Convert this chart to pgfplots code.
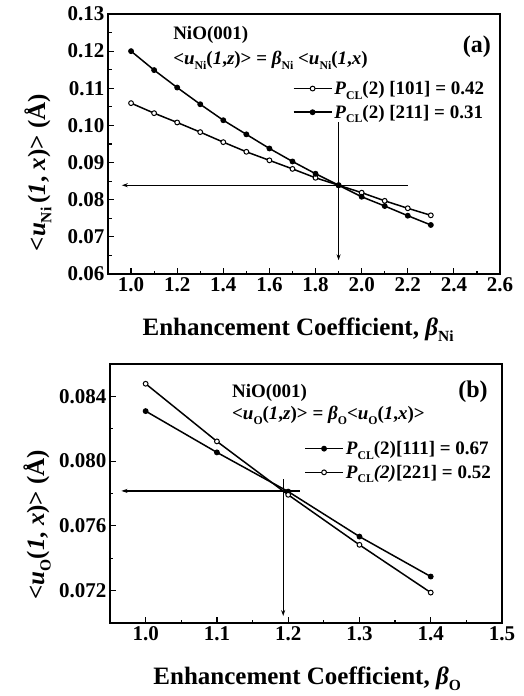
\documentclass[border=0pt]{standalone}
\usepackage{fontspec}
\setmainfont{Liberation Serif}
\usepackage{graphicx}
\usepackage{pgfplots}
\pgfplotsset{compat=1.18}
\usetikzlibrary{arrows.meta}

\newcommand{\sub}[1]{\raisebox{-0.55ex}{\scalebox{0.62}{#1}}}

\pgfplotsset{
  nioax/.style={
    scale only axis, width=392pt,
    axis line style={line width=2pt},
    tick style={line width=1.2pt, black},
    major tick length=6pt, minor tick length=3.5pt,
    tick align=inside, xtick pos=bottom, ytick pos=left,
    tick label style={font=\fontsize{21}{24}\selectfont\bfseries},
    label style={font=\fontsize{25}{28}\selectfont\bfseries},
    scaled ticks=false,
    /pgf/number format/assume math mode=true,
    xticklabel style={/pgf/number format/.cd, fixed, fixed zerofill, precision=1},
    minor x tick num=1, minor y tick num=1,
    every axis plot/.append style={line width=1.5pt, black, mark size=2.4pt},
    legend style={draw=none, fill=none, inner sep=0pt, row sep=5pt,
      font=\fontsize{19}{22}\selectfont\bfseries},
    legend cell align=left,
    legend image code/.code={\draw[mark repeat=2, mark phase=2, #1]
      plot coordinates {(0pt,0pt) (19pt,0pt) (38pt,0pt)};},
    clip=false,
  },
  openm/.style={mark=*, mark options={fill=white, line width=1pt}},
  fillm/.style={mark=*, mark options={fill=black, line width=1pt}},
  guide/.style={line width=1.2pt, black, -{Stealth[length=6pt, width=4pt]}},
}

\begin{document}
\begin{tikzpicture}
\useasboundingbox (0pt,0pt) rectangle (524pt,-696pt);

% ---- panel (a) ----
\begin{axis}[nioax, height=260pt,
  at={(108pt,-274pt)}, anchor=south west,
  xmin=0.9, xmax=2.6, ymin=0.06, ymax=0.13,
  xtick={1.0,1.2,...,2.6}, ytick={0.06,0.07,...,0.13},
  yticklabel style={/pgf/number format/.cd, fixed, fixed zerofill, precision=2},
  xlabel={Enhancement Coefficient, \textit{β}\sub{Ni}},
  ylabel={<\textit{u}\sub{Ni}\,(\textit{1}, \textit{x})> (Å)},
  xlabel style={at={(axis description cs:0.485,-0.215)}, anchor=center},
  ylabel style={at={(axis description cs:-0.179,0.39)}, anchor=center, rotate=0},
  legend style={at={(0.965,0.75)}, anchor=north east},
]
\addplot[openm] coordinates {
  (1.0,0.1060)(1.1,0.1033)(1.2,0.1008)(1.3,0.0982)(1.4,0.0955)(1.5,0.0929)
  (1.6,0.0906)(1.7,0.0883)(1.8,0.0859)(1.9,0.0839)(2.0,0.0819)(2.1,0.0797)
  (2.2,0.0777)(2.3,0.0758)
};
\addlegendentry{\textit{P}\sub{CL}(2) [101] = 0.42}
\addplot[fillm] coordinates {
  (1.0,0.1200)(1.1,0.1149)(1.2,0.1102)(1.3,0.1057)(1.4,0.1014)(1.5,0.0976)
  (1.6,0.0938)(1.7,0.0903)(1.8,0.0870)(1.9,0.0839)(2.0,0.0808)(2.1,0.0783)
  (2.2,0.0757)(2.3,0.0732)
};
\addlegendentry{\textit{P}\sub{CL}(2) [211] = 0.31}
\addplot[guide, forget plot] coordinates {(2.2,0.0839)(0.96,0.0839)};
\addplot[guide, forget plot] coordinates {(1.9,0.1008)(1.9,0.0637)};
\node[anchor=west, inner sep=0pt, font=\fontsize{19}{22}\selectfont\bfseries]
  at (rel axis cs:0.166,0.919) {NiO(001)};
\node[anchor=west, inner sep=0pt, font=\fontsize{19}{22}\selectfont\bfseries]
  at (rel axis cs:0.166,0.823)
  {<\textit{u}\sub{Ni}(\textit{1},\textit{z})> = \textit{β}\sub{Ni} <\textit{u}\sub{Ni}(\textit{1},\textit{x})};
\node[inner sep=0pt, font=\fontsize{24}{27}\selectfont\bfseries]
  at (rel axis cs:0.941,0.873) {(a)};
\end{axis}

% ---- panel (b) ----
\begin{axis}[nioax, height=259pt,
  at={(110pt,-623pt)}, anchor=south west,
  xmin=0.95, xmax=1.5, ymin=0.070, ymax=0.086,
  xtick={1.0,1.1,...,1.5}, ytick={0.072,0.076,0.080,0.084},
  yticklabel style={/pgf/number format/.cd, fixed, fixed zerofill, precision=3},
  xlabel={Enhancement Coefficient, \textit{β}\sub{O}},
  ylabel={<\textit{u}\sub{O}(\textit{1}, \textit{x})> (Å)},
  xlabel style={at={(axis description cs:0.503,-0.215)}, anchor=center},
  ylabel style={at={(axis description cs:-0.186,0.38)}, anchor=center, rotate=0},
  legend style={at={(0.977,0.71)}, anchor=north east},
]
\addplot[fillm] coordinates {
  (1.0,0.08309)(1.1,0.08054)(1.2,0.07812)(1.3,0.07534)(1.4,0.07287)
};
\addlegendentry{\textit{P}\sub{CL}(2)[111] = 0.67}
\addplot[openm] coordinates {
  (1.0,0.08478)(1.1,0.08122)(1.2,0.07792)(1.3,0.07483)(1.4,0.07188)
};
\addlegendentry{\textit{P}\sub{CL}\textit{(2)}[221] = 0.52}
\addplot[guide, forget plot] coordinates {(1.216,0.07816)(0.966,0.07816)};
\addplot[guide, forget plot] coordinates {(1.193,0.07889)(1.193,0.07043)};
\node[anchor=west, inner sep=0pt, font=\fontsize{19}{22}\selectfont\bfseries]
  at (rel axis cs:0.311,0.888) {NiO(001)};
\node[anchor=west, inner sep=0pt, font=\fontsize{19}{22}\selectfont\bfseries]
  at (rel axis cs:0.311,0.803)
  {<\textit{u}\sub{O}(\textit{1},\textit{z})> = \textit{β}\sub{O}<\textit{u}\sub{O}(\textit{1},\textit{x})>};
\node[inner sep=0pt, font=\fontsize{24}{27}\selectfont\bfseries]
  at (rel axis cs:0.926,0.892) {(b)};
\end{axis}
\end{tikzpicture}
\end{document}
